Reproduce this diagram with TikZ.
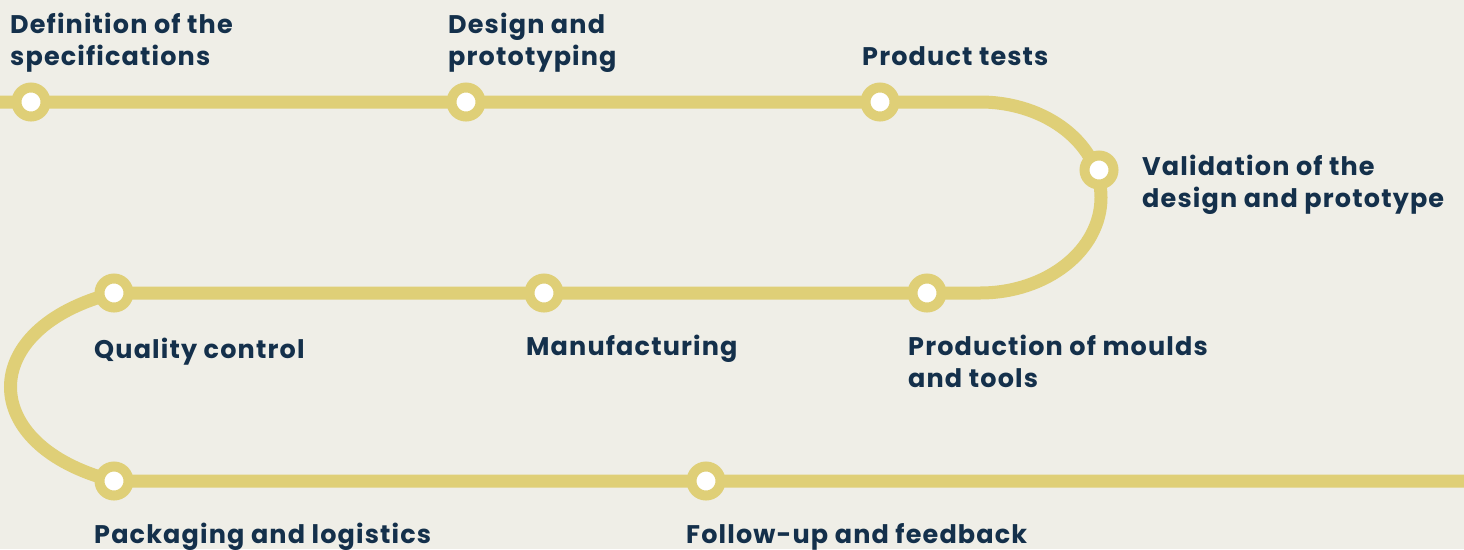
\documentclass[tikz,border=0pt]{standalone}
\usepackage{fontspec}
\setmainfont{Poppins}[UprightFont=* Bold, LetterSpace=4.5]
\usetikzlibrary{backgrounds}
\definecolor{bgc}{HTML}{EFEEE7}
\definecolor{track}{HTML}{DFCF77}
\definecolor{ink}{HTML}{14304B}
\tikzset{
  stop/.style={circle, fill=white, draw=track, line width=10pt, minimum size=29pt, inner sep=0pt},
  trackline/.style={draw=track, line width=13pt},
  lbl/.style={anchor=base west, align=left, inner sep=0pt, text=ink, font=\fontsize{25.5}{32}\selectfont}
}
\begin{document}
\begin{tikzpicture}[x=1pt,y=-1pt]
\useasboundingbox (0,0) rectangle (1464,549);
% stops
\node[stop] (s1) at (31,102) {};
\node[stop] (s2) at (466,102) {};
\node[stop] (s3) at (880,102) {};
\node[stop] (s4) at (1099,170) {};
\node[stop] (s5) at (927,293) {};
\node[stop] (s6) at (544,293) {};
\node[stop] (s7) at (114,293) {};
\node[stop] (s8) at (114,481) {};
\node[stop] (s9) at (706,481) {};
\coordinate (beg) at (0,102);
\coordinate (r1) at (980,102);
\coordinate (fin) at (1464,481);
\begin{pgfonlayer}{background}
\fill[bgc] (0,0) rectangle (1464,549);
\draw[trackline] (beg) -- (s1.center) -- (s2.center) -- (s3.center) -- (r1)
  arc[start angle=90, end angle=-90, x radius=121pt, y radius=95.5pt] coordinate (r2)
  -- (s5.center) -- (s6.center) -- (s7.center)
  .. controls (-24,328) and (-24,446) .. (s8.center) -- (s9.center) -- (fin);
\end{pgfonlayer}
% labels
\node[lbl] (t1) at (10,65) {Definition of the\\specifications};
\node[lbl] (t2) at (448,65) {Design and\\prototyping};
\node[lbl] (t3) at (862,65) {Product tests};
\node[lbl] (t4) at (1142,207) {Validation of the\\design and prototype};
\node[lbl] (t5) at (94,358) {Quality control};
\node[lbl] (t6) at (526,355) {Manufacturing};
\node[lbl] (t7) at (908,387) {Production of moulds\\and tools};
\node[lbl] (t8) at (94,543) {Packaging and logistics};
\node[lbl] (t9) at (686,543) {Follow-up and feedback};
\end{tikzpicture}
\end{document}
